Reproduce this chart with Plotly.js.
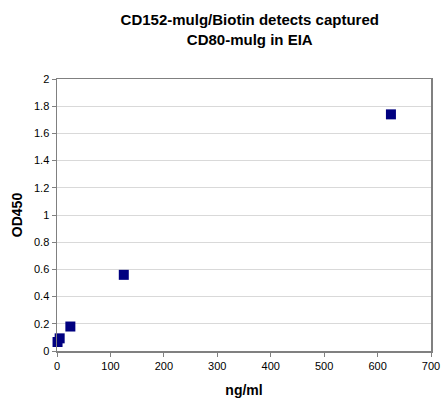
<!DOCTYPE html>
<html>
<head>
<meta charset="utf-8">
<script src="https://cdn.plot.ly/plotly-3.0.1.min.js"></script>
<style>
  html, body { margin: 0; padding: 0; background: #fff; }
  #chart { width: 446px; height: 406px; }
</style>
</head>
<body>
<div id="chart"></div>
<script>
// concentration (ng/ml) and measured OD450
var conc = [1, 5, 25, 125, 625];
var od450 = [0.066, 0.093, 0.18, 0.56, 1.74];

var trace = {
  x: conc,
  y: od450,
  type: 'scatter',
  mode: 'markers',
  cliponaxis: false,
  marker: { symbol: 'square', size: 10, color: '#000080' },
  hoverinfo: 'x+y'
};

var axisFont = { family: 'Arial, Liberation Sans, sans-serif', size: 11, color: '#000' };

var layout = {
  width: 446,
  height: 406,
  margin: { l: 57, r: 15, t: 79, b: 55 },
  paper_bgcolor: '#fff',
  plot_bgcolor: '#fff',
  showlegend: false,
  title: {
    text: '<b>CD152-mulg/Biotin detects captured<br>CD80-mulg in EIA</b>',
    font: { family: 'Arial, Liberation Sans, sans-serif', size: 15, color: '#000' },
    x: 0.56,
    xanchor: 'center',
    y: 0.938,
    yanchor: 'middle'
  },
  xaxis: {
    range: [0, 700],
    dtick: 100,
    tickfont: axisFont,
    ticks: 'outside',
    ticklen: 4,
    tickcolor: '#808080',
    showline: true,
    linecolor: '#808080',
    linewidth: 1.5,
    mirror: true,
    showgrid: false,
    zeroline: false,
    title: { text: '<b>ng/ml</b>', font: { family: 'Arial, Liberation Sans, sans-serif', size: 14, color: '#000' }, standoff: 14 }
  },
  yaxis: {
    range: [0, 2],
    dtick: 0.2,
    tickfont: axisFont,
    ticks: 'outside',
    ticklen: 4,
    tickcolor: '#808080',
    showline: true,
    linecolor: '#808080',
    linewidth: 1.5,
    mirror: true,
    showgrid: true,
    gridcolor: '#d9d9d9',
    zeroline: false,
    title: { text: '<b>OD450</b>', font: { family: 'Arial, Liberation Sans, sans-serif', size: 14, color: '#000' }, standoff: 8 }
  }
};

Plotly.newPlot('chart', [trace], layout, { displayModeBar: false, staticPlot: true });
</script>
</body>
</html>
